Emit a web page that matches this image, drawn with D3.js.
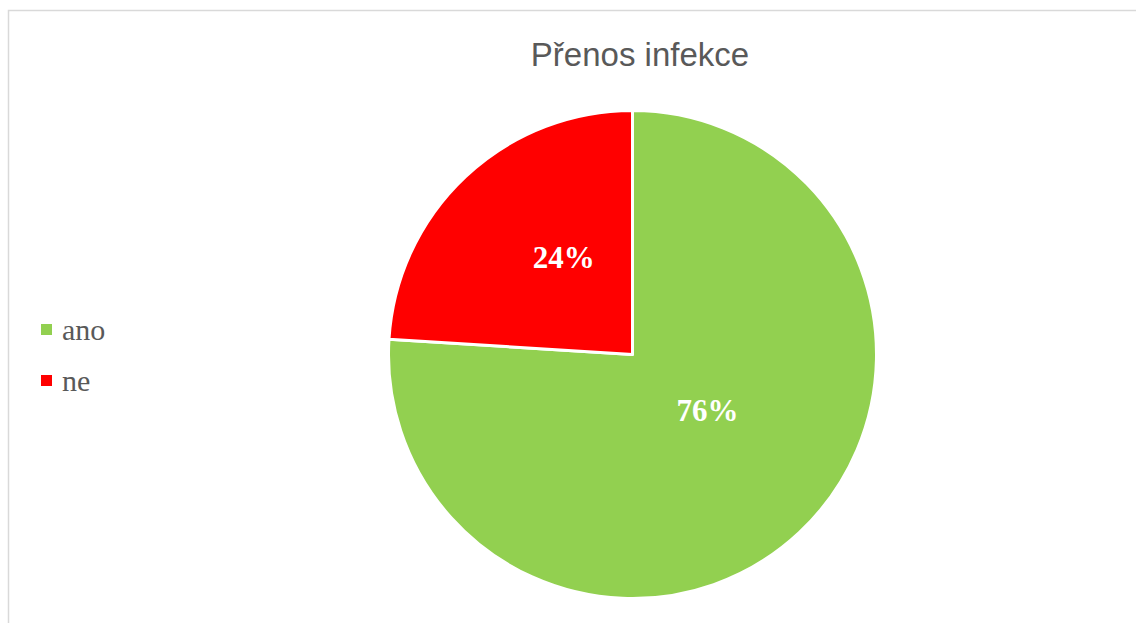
<!DOCTYPE html>
<html lang="cs">
    <head>
        <meta charset="utf-8">
        <title>Přenos infekce</title>
        <script src="https://d3js.org/d3.v7.min.js" charset="utf-8"></script>
        <style>
        body { margin: 0; background: #fff; }
        .title { font: 33px "Liberation Sans", Arial, sans-serif; fill: #595959; text-anchor: middle; }
        .legend text { font: 30px "Liberation Serif", "Times New Roman", serif; fill: #595959; }
        .label { font: bold 31px "Liberation Serif", "Times New Roman", serif; fill: #fff; text-anchor: middle; }
        </style>
    </head>
    <body>
        <svg class="canvas"></svg>
        <script type="text/javascript">

// data
var categories = ['ano', 'ne'];
var values = [76, 24];
var colours = ['#92d050', '#ff0000'];
var chartTitle = 'Přenos infekce';

(function () {
  var width = 1136, height = 623;
  var cx = 632.5, cy = 354.5, radius = 244;

  var svg = d3.select('.canvas')
      .attr('width', width)
      .attr('height', height);

  // chart area border (only top and left visible in the window)
  svg.append('rect')
      .attr('x', 8.5).attr('y', 10.5)
      .attr('width', width + 20).attr('height', height + 20)
      .attr('fill', 'none')
      .attr('stroke', '#d9d9d9')
      .attr('stroke-width', 1.5);

  svg.append('text')
      .attr('class', 'title')
      .attr('x', 640).attr('y', 66)
      .text(chartTitle);

  var colour = d3.scaleOrdinal().domain(categories).range(colours);

  var data = categories.map(function(c, i) { return {name: c, value: values[i]}; });
  var total = d3.sum(values);

  var pie = d3.pie().sort(null).value(function(d) { return d.value; });
  var arc = d3.arc().innerRadius(0).outerRadius(radius);
  var labelArc = d3.arc().innerRadius(105).outerRadius(105);

  var g = svg.append('g').attr('transform', 'translate(' + cx + ',' + cy + ')');

  g.selectAll('path')
      .data(pie(data))
      .enter()
      .append('path')
      .attr('d', arc)
      .attr('fill', function(d) { return colour(d.data.name); })
      .attr('stroke', '#fff')
      .attr('stroke-width', 3)
      .attr('stroke-linejoin', 'round');

  g.selectAll('text.label')
      .data(pie(data))
      .enter()
      .append('text')
      .attr('class', 'label')
      .attr('x', function(d) { return labelArc.centroid(d)[0] + 3; })
      .attr('y', function(d) { return labelArc.centroid(d)[1] - 10; })
      .text(function(d) { return Math.round(d.data.value / total * 100) + '%'; });

  // legend
  var legendY = d3.scalePoint().domain(categories).range([330, 381]);
  var legend = svg.append('g').attr('class', 'legend');
  var item = legend.selectAll('g')
      .data(categories)
      .enter()
      .append('g')
      .attr('transform', function(d) { return 'translate(41,' + legendY(d) + ')'; });
  item.append('rect')
      .attr('x', 0).attr('y', -6)
      .attr('width', 11).attr('height', 11)
      .attr('fill', function(d) { return colour(d); });
  item.append('text')
      .attr('x', 21).attr('y', 10)
      .text(function(d) { return d; });
})();

        </script>
    </body>
</html>
